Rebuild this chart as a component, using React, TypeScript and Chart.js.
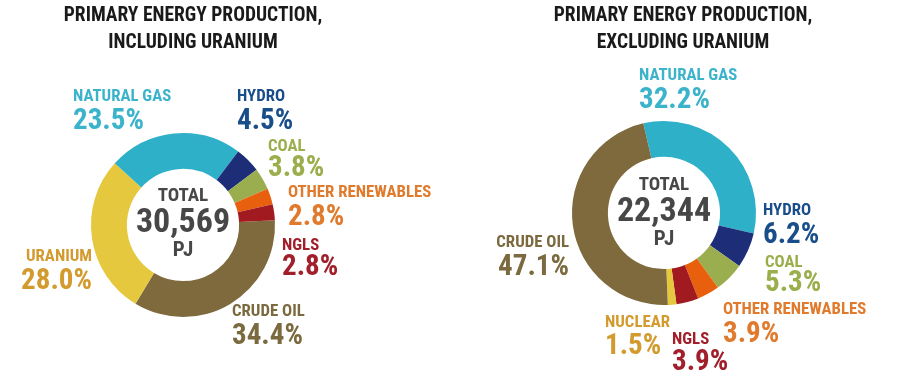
import React, { useEffect, useRef } from "react";
import { Chart, registerables } from "chart.js";

Chart.register(...registerables);

// ---------- DATA ----------
const leftTitle = ["PRIMARY ENERGY PRODUCTION,", "INCLUDING URANIUM"];
const leftCategories = ["CRUDE OIL", "URANIUM", "NATURAL GAS", "HYDRO", "COAL", "OTHER RENEWABLES", "NGLS"];
const leftValues = [34.4, 28.0, 23.5, 4.5, 3.8, 2.8, 2.8];
const leftTotal = "30,569";

const rightTitle = ["PRIMARY ENERGY PRODUCTION,", "EXCLUDING URANIUM"];
const rightCategories = ["NATURAL GAS", "HYDRO", "COAL", "OTHER RENEWABLES", "NGLS", "NUCLEAR", "CRUDE OIL"];
const rightValues = [32.2, 6.2, 5.3, 3.9, 3.9, 1.5, 47.1];
const rightTotal = "22,344";

const unit = "PJ";
const totalLabel = "TOTAL";

// ---------- STYLES ----------
const segColors: Record<string, string> = {
  "NATURAL GAS": "#2eb0c9",
  HYDRO: "#1e2d78",
  COAL: "#9bae4f",
  "OTHER RENEWABLES": "#e8600e",
  NGLS: "#a11a1f",
  "CRUDE OIL": "#7e6a3d",
  URANIUM: "#e5c83d",
  NUCLEAR: "#e5c83d",
};
const labelColors: Record<string, string> = {
  "NATURAL GAS": "#3bb3cb",
  HYDRO: "#1a4e8a",
  COAL: "#9aae4c",
  "OTHER RENEWABLES": "#e07a2c",
  NGLS: "#a11f2a",
  "CRUDE OIL": "#7b6a3f",
  URANIUM: "#d39a2e",
  NUCLEAR: "#d39a2e",
};

const FONT = "'Roboto Condensed', 'Liberation Sans Narrow', 'DejaVu Sans Condensed', 'Liberation Sans', sans-serif";

// label layout (local canvas coords): [x, yName, yPct, align]
type Pos = [number, number, number, CanvasTextAlign];
const leftLabelPos: Record<string, Pos> = {
  "NATURAL GAS": [73, 97, 122, "left"],
  HYDRO: [237, 97, 122, "left"],
  COAL: [268, 147, 169, "left"],
  "OTHER RENEWABLES": [288, 193, 218, "left"],
  NGLS: [282, 246, 268, "left"],
  URANIUM: [92, 257, 282, "right"],
  "CRUDE OIL": [232, 312, 337, "left"],
};
const rightLabelPos: Record<string, Pos> = {
  "NATURAL GAS": [180, 76, 101, "left"],
  HYDRO: [304, 211, 236, "left"],
  COAL: [306, 263, 284, "left"],
  "OTHER RENEWABLES": [264, 310, 335, "left"],
  NGLS: [213, 340, 363, "left"],
  NUCLEAR: [146, 323, 347, "left"],
  "CRUDE OIL": [110, 243, 268, "right"],
};

type Cfg = {
  title: string[];
  titleX: number;
  categories: string[];
  values: number[];
  total: string;
  pos: Record<string, Pos>;
  padding: { left: number; right: number; top: number; bottom: number };
  rotation: number;
  centerDy: number;
};

const labelPlugin = {
  id: "energyLabels",
  afterDraw(chart: any, _args: any, opts: any) {
    const cfg: Cfg = opts.cfg;
    const ctx: CanvasRenderingContext2D = chart.ctx;
    ctx.save();
    ctx.textBaseline = "middle";
    // title
    ctx.fillStyle = "#1a1a1a";
    ctx.textAlign = "center";
    ctx.font = `bold 19.5px ${FONT}`;
    cfg.title.forEach((t, i) => ctx.fillText(t, cfg.titleX, 16 + i * 27));
    // labels
    cfg.categories.forEach((c, i) => {
      const p = cfg.pos[c];
      if (!p) return;
      ctx.fillStyle = labelColors[c];
      ctx.textAlign = p[3];
      ctx.font = `bold 16.8px ${FONT}`;
      ctx.fillText(c, p[0], p[1]);
      ctx.font = `bold 29px ${FONT}`;
      ctx.fillText(cfg.values[i].toFixed(1) + "%", p[0], p[2]);
    });
    // center
    const a = chart.chartArea;
    const cx = (a.left + a.right) / 2;
    const cy = (a.top + a.bottom) / 2 + cfg.centerDy;
    ctx.fillStyle = "#474747";
    ctx.textAlign = "center";
    ctx.font = `bold 19px ${FONT}`;
    ctx.fillText(totalLabel, cx, cy - 28);
    ctx.font = `bold 34px ${FONT}`;
    ctx.fillText(cfg.total, cx, cy - 1);
    ctx.font = `bold 21px ${FONT}`;
    ctx.fillText(unit, cx, cy + 27);
    ctx.restore();
  },
};

function Donut({ cfg, left }: { cfg: Cfg; left: number }) {
  const ref = useRef<HTMLCanvasElement>(null);
  useEffect(() => {
    if (!ref.current) return;
    const chart = new Chart(ref.current, {
      type: "doughnut",
      data: {
        labels: cfg.categories,
        datasets: [
          {
            data: cfg.values,
            backgroundColor: cfg.categories.map((c) => segColors[c]),
            borderWidth: 0,
          },
        ],
      },
      options: {
        responsive: false,
        animation: false,
        cutout: "61%",
        rotation: cfg.rotation,
        layout: { padding: cfg.padding },
        plugins: {
          legend: { display: false },
          tooltip: { enabled: false },
          title: { display: false },
          energyLabels: { cfg },
        } as any,
      },
      plugins: [labelPlugin],
    });
    return () => chart.destroy();
  }, [cfg]);
  return (
    <canvas
      ref={ref}
      width={459}
      height={384}
      style={{ position: "absolute", left, top: 0, width: 459, height: 384 }}
    />
  );
}

const leftCfg: Cfg = {
  title: leftTitle,
  titleX: 193,
  categories: leftCategories,
  values: leftValues,
  total: leftTotal,
  pos: leftLabelPos,
  padding: { left: 91, right: 184, top: 133, bottom: 67 },
  rotation: 87,
  centerDy: -1,
};
const rightCfg: Cfg = {
  title: rightTitle,
  titleX: 224,
  categories: rightCategories,
  values: rightValues,
  total: rightTotal,
  pos: rightLabelPos,
  padding: { left: 113, right: 162, top: 121, bottom: 79 },
  rotation: -13,
  centerDy: 0,
};

export default function App() {
  return (
    <div style={{ position: "fixed", left: 0, top: 0, width: 918, height: 384, background: "#fff" }}>
      <Donut cfg={leftCfg} left={0} />
      <Donut cfg={rightCfg} left={459} />
    </div>
  );
}
